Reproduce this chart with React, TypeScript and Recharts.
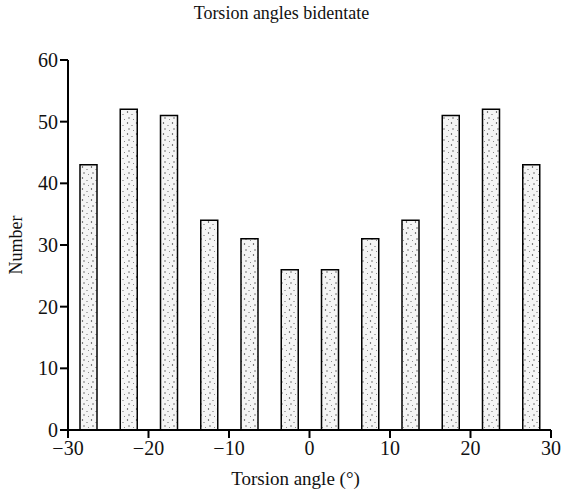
import React from 'react';
import { BarChart, Bar, XAxis, YAxis, Label } from 'recharts';

const angles = [-27.5, -22.5, -17.5, -12.5, -7.5, -2.5, 2.5, 7.5, 12.5, 17.5, 22.5, 27.5];
const counts = [43, 52, 51, 34, 31, 26, 26, 31, 34, 51, 52, 43];
const xTicks = [-30, -20, -10, 0, 10, 20, 30];
const yTicks = [0, 10, 20, 30, 40, 50, 60];

const data = angles.map((a, i) => ({ angle: a, count: counts[i] }));

const font = '"Liberation Serif", "DejaVu Serif", serif';

const App: React.FC = () => {
  return (
    <div style={{ position: 'absolute', left: 0, top: 0, width: 563, height: 493, background: '#fff', fontFamily: font }}>
      <div style={{ position: 'absolute', left: 0, top: 3, width: 563, textAlign: 'center', fontSize: 18, color: '#111' }}>
        Torsion angles bidentate
      </div>
      <BarChart
        width={563}
        height={493}
        data={data}
        margin={{ top: 60, right: 12, bottom: 33, left: 0 }}
        style={{ position: 'absolute', left: 0, top: 0 }}
      >
        <defs>
          <pattern id="stipple" width="9" height="11" patternUnits="userSpaceOnUse">
            <rect width="9" height="11" fill="#f5f5f5" />
            <circle cx="1.5" cy="2" r="0.7" fill="#333" />
            <circle cx="6" cy="4.5" r="0.6" fill="#555" />
            <circle cx="3" cy="8" r="0.7" fill="#444" />
            <circle cx="7.5" cy="9.5" r="0.5" fill="#666" />
          </pattern>
        </defs>
        <XAxis
          dataKey="angle"
          type="number"
          domain={[-30, 30]}
          ticks={xTicks}
          interval={0}
          height={30}
          tickSize={8}
          tickMargin={3}
          axisLine={{ stroke: '#000', strokeWidth: 2 }}
          tickLine={{ stroke: '#000', strokeWidth: 2 }}
          tick={{ fill: '#111', fontSize: 20, fontFamily: font }}
          tickFormatter={(v: number) => (v < 0 ? '\u2212' + Math.abs(v) : String(v))}
        >
          <Label value="Torsion angle (°)" position="bottom" offset={12} dx={-14} style={{ fill: '#111', fontSize: 19, fontFamily: font }} />
        </XAxis>
        <YAxis
          type="number"
          domain={[0, 60]}
          ticks={yTicks}
          interval={0}
          width={68}
          tickSize={8}
          tickMargin={2}
          axisLine={{ stroke: '#000', strokeWidth: 2 }}
          tickLine={{ stroke: '#000', strokeWidth: 2 }}
          tick={{ fill: '#111', fontSize: 20, fontFamily: font }}
        >
          <Label value="Number" angle={-90} position="insideLeft" offset={16} style={{ fill: '#111', fontSize: 18, fontFamily: font, textAnchor: 'middle' }} />
        </YAxis>
        <Bar dataKey="count" barSize={17} fill="url(#stipple)" stroke="#000" strokeWidth={1.5} isAnimationActive={false} />
      </BarChart>
    </div>
  );
};

export default App;
